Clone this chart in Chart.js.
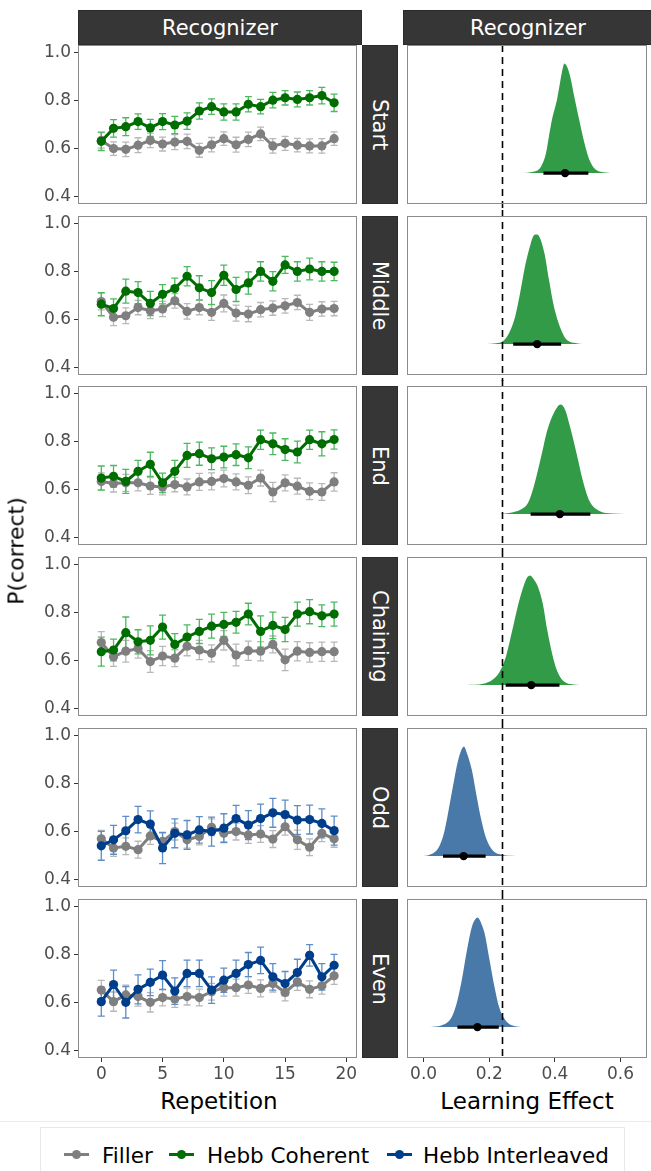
<!DOCTYPE html>
<html><head><meta charset="utf-8">
<script src="https://cdn.jsdelivr.net/npm/chart.js@4.4.0/dist/chart.umd.min.js"></script>
<style>
html,body{margin:0;padding:0;background:#fff;}
body{width:651px;height:1171px;position:relative;overflow:hidden;font-family:"DejaVu Sans",sans-serif;}
canvas{position:absolute;}
.strip{position:absolute;background:#363636;color:#fff;font-size:21px;display:flex;align-items:center;justify-content:center;box-sizing:border-box;border:1px solid #2b2b2b;}
.vstrip{writing-mode:vertical-rl;}
.txt{position:absolute;white-space:nowrap;color:#000;}
</style></head><body>
<script>
// ---------------- DATA ----------------
const repetition = [0,1,2,3,4,5,6,7,8,9,10,11,12,13,14,15,16,17,18,19];
const rowLabels = ["Start","Middle","End","Chaining","Odd","Even"];
const seriesNames = ["Filler","Hebb Coherent","Hebb Interleaved"];
const stripTitle = "Recognizer";
const xTicksRepetition = [0,5,10,15,20];
const yTicksP = [0.4,0.6,0.8,1.0];
const xTicksEffect = [0.0,0.2,0.4,0.6];
const referenceEffect = 0.24;

const startFiller      = [0.634,0.600,0.597,0.614,0.634,0.619,0.627,0.630,0.593,0.616,0.641,0.616,0.638,0.661,0.611,0.622,0.614,0.611,0.611,0.641];
const startFillerErr   = [0.032,0.028,0.030,0.031,0.030,0.029,0.031,0.030,0.029,0.030,0.028,0.031,0.030,0.028,0.030,0.029,0.028,0.029,0.030,0.028];
const startCoherent    = [0.630,0.684,0.691,0.712,0.686,0.712,0.698,0.714,0.756,0.774,0.752,0.752,0.784,0.774,0.801,0.811,0.804,0.811,0.820,0.790];
const startCoherentErr = [0.038,0.036,0.037,0.032,0.035,0.033,0.036,0.034,0.034,0.032,0.034,0.034,0.032,0.030,0.032,0.030,0.031,0.030,0.034,0.036];

const middleFiller      = [0.675,0.610,0.616,0.650,0.637,0.644,0.678,0.634,0.650,0.630,0.667,0.627,0.623,0.641,0.648,0.657,0.671,0.630,0.644,0.646];
const middleFillerErr   = [0.035,0.035,0.033,0.030,0.033,0.032,0.030,0.032,0.030,0.033,0.035,0.033,0.032,0.030,0.030,0.030,0.030,0.033,0.030,0.030];
const middleCoherent    = [0.664,0.646,0.718,0.712,0.667,0.705,0.729,0.780,0.732,0.712,0.784,0.725,0.752,0.800,0.759,0.827,0.800,0.810,0.800,0.800];
const middleCoherentErr = [0.048,0.040,0.050,0.046,0.050,0.040,0.043,0.040,0.050,0.050,0.042,0.050,0.046,0.040,0.040,0.035,0.040,0.045,0.040,0.038];

const endFiller      = [0.634,0.625,0.628,0.628,0.615,0.611,0.621,0.611,0.632,0.634,0.646,0.632,0.618,0.648,0.590,0.628,0.614,0.593,0.590,0.632];
const endFillerErr   = [0.035,0.035,0.035,0.033,0.035,0.033,0.030,0.033,0.035,0.035,0.035,0.033,0.035,0.033,0.040,0.033,0.033,0.035,0.035,0.038];
const endCoherent    = [0.648,0.655,0.634,0.676,0.705,0.628,0.676,0.742,0.749,0.728,0.735,0.745,0.732,0.807,0.790,0.766,0.756,0.807,0.790,0.808];
const endCoherentErr = [0.050,0.045,0.050,0.045,0.050,0.040,0.045,0.050,0.048,0.045,0.045,0.045,0.045,0.040,0.045,0.045,0.045,0.040,0.050,0.040];

const chainingFiller      = [0.675,0.616,0.639,0.650,0.596,0.619,0.610,0.660,0.644,0.630,0.684,0.623,0.641,0.639,0.667,0.603,0.639,0.634,0.637,0.637];
const chainingFillerErr   = [0.045,0.040,0.045,0.040,0.045,0.040,0.035,0.040,0.040,0.035,0.040,0.045,0.040,0.040,0.035,0.045,0.040,0.040,0.040,0.040];
const chainingCoherent    = [0.637,0.644,0.716,0.678,0.684,0.739,0.667,0.698,0.721,0.743,0.750,0.759,0.793,0.721,0.746,0.729,0.793,0.803,0.786,0.793];
const chainingCoherentErr = [0.060,0.045,0.065,0.050,0.060,0.050,0.045,0.050,0.050,0.050,0.050,0.045,0.045,0.065,0.055,0.050,0.050,0.050,0.045,0.050];

const oddFiller         = [0.570,0.532,0.539,0.525,0.582,0.559,0.600,0.566,0.580,0.618,0.593,0.600,0.586,0.590,0.569,0.620,0.566,0.535,0.593,0.570];
const oddFillerErr      = [0.035,0.035,0.035,0.035,0.035,0.035,0.035,0.035,0.035,0.035,0.035,0.035,0.035,0.035,0.035,0.035,0.040,0.035,0.035,0.035];
const oddInterleaved    = [0.541,0.566,0.603,0.650,0.631,0.532,0.593,0.586,0.607,0.600,0.614,0.654,0.627,0.654,0.678,0.671,0.648,0.650,0.634,0.604];
const oddInterleavedErr = [0.060,0.060,0.060,0.055,0.055,0.065,0.060,0.060,0.055,0.060,0.060,0.055,0.060,0.060,0.060,0.060,0.060,0.060,0.060,0.060];

const evenFiller         = [0.652,0.604,0.632,0.625,0.601,0.621,0.615,0.625,0.621,0.645,0.662,0.662,0.673,0.659,0.679,0.642,0.686,0.655,0.670,0.711];
const evenFillerErr      = [0.040,0.040,0.040,0.040,0.040,0.035,0.035,0.035,0.035,0.035,0.035,0.035,0.035,0.035,0.035,0.035,0.035,0.035,0.035,0.035];
const evenInterleaved    = [0.604,0.675,0.601,0.655,0.684,0.714,0.648,0.721,0.721,0.652,0.693,0.721,0.758,0.775,0.707,0.679,0.725,0.796,0.707,0.755];
const evenInterleavedErr = [0.060,0.060,0.065,0.060,0.055,0.060,0.055,0.055,0.055,0.055,0.050,0.055,0.050,0.055,0.055,0.050,0.055,0.045,0.055,0.045];

// posterior of learning effect: x grid, relative density, [lower, estimate, upper]
const startEffectX        = [0.294,0.338,0.358,0.373,0.382,0.392,0.407,0.417,0.424,0.429,0.436,0.446,0.461,0.476,0.490,0.505,0.525,0.554,0.585];
const startEffectDensity  = [0,0.015,0.061,0.183,0.34,0.5,0.68,0.85,0.957,1,0.978,0.89,0.67,0.459,0.275,0.122,0.03,0.006,0];
const startEffectInterval = [0.365,0.431,0.502];

const middleEffectX        = [0.191,0.221,0.240,0.260,0.279,0.294,0.309,0.324,0.333,0.343,0.353,0.368,0.382,0.397,0.417,0.436,0.466,0.500];
const middleEffectDensity  = [0,0.009,0.024,0.1,0.253,0.466,0.71,0.893,0.979,1,0.979,0.832,0.588,0.344,0.146,0.04,0.009,0];
const middleEffectInterval = [0.273,0.346,0.419];

const endEffectX        = [0.230,0.270,0.299,0.319,0.338,0.358,0.377,0.397,0.417,0.431,0.446,0.466,0.485,0.505,0.534,0.574,0.652];
const endEffectDensity  = [0,0.015,0.046,0.108,0.277,0.523,0.769,0.923,1,0.954,0.8,0.554,0.308,0.123,0.031,0.006,0];
const endEffectInterval = [0.326,0.415,0.508];

const chainingEffectX        = [0.132,0.181,0.211,0.230,0.250,0.270,0.289,0.304,0.314,0.324,0.338,0.348,0.363,0.377,0.392,0.407,0.426,0.456,0.495];
const chainingEffectDensity  = [0,0.012,0.052,0.114,0.252,0.498,0.745,0.898,0.975,1,0.955,0.9,0.745,0.498,0.283,0.129,0.037,0.006,0];
const chainingEffectInterval = [0.250,0.328,0.414];

const oddEffectX        = [-0.017,0.015,0.034,0.049,0.064,0.078,0.093,0.103,0.113,0.123,0.132,0.147,0.162,0.176,0.191,0.211,0.240,0.279];
const oddEffectDensity  = [0,0.009,0.037,0.098,0.235,0.45,0.694,0.847,0.954,1,0.939,0.786,0.541,0.327,0.159,0.052,0.012,0];
const oddEffectInterval = [0.059,0.122,0.189];

const evenEffectX        = [0.020,0.054,0.074,0.088,0.103,0.118,0.132,0.147,0.157,0.164,0.176,0.186,0.201,0.216,0.230,0.250,0.279,0.319];
const evenEffectDensity  = [0,0.015,0.046,0.107,0.244,0.457,0.701,0.915,0.982,1,0.945,0.854,0.61,0.366,0.183,0.061,0.009,0];
const evenEffectInterval = [0.103,0.164,0.229];

// ---------------- STYLE / LAYOUT ----------------
const COL = {
  filler:      {line:'#7f7f7f', err:'#b8b8b8'},
  coherent:    {line:'#006d00', err:'#4cb860', dens:'#319b47'},
  interleaved: {line:'#003e8b', err:'#5d8dc6', dens:'#4979a9'}
};
const ROW_TOP = [45, 216, 386, 557, 728, 899];
const PANEL_H = 159;
const PAD = 16, XAXIS_H = 30;
const TICK_FONT = {family:'DejaVu Sans', size:17};
const TICK_COLOR = '#4d4d4d';

const rows = [
  {label:rowLabels[0], f:startFiller, fe:startFillerErr, h:startCoherent, he:startCoherentErr, kind:'coherent', ex:startEffectX, ed:startEffectDensity, iv:startEffectInterval},
  {label:rowLabels[1], f:middleFiller, fe:middleFillerErr, h:middleCoherent, he:middleCoherentErr, kind:'coherent', ex:middleEffectX, ed:middleEffectDensity, iv:middleEffectInterval},
  {label:rowLabels[2], f:endFiller, fe:endFillerErr, h:endCoherent, he:endCoherentErr, kind:'coherent', ex:endEffectX, ed:endEffectDensity, iv:endEffectInterval},
  {label:rowLabels[3], f:chainingFiller, fe:chainingFillerErr, h:chainingCoherent, he:chainingCoherentErr, kind:'coherent', ex:chainingEffectX, ed:chainingEffectDensity, iv:chainingEffectInterval},
  {label:rowLabels[4], f:oddFiller, fe:oddFillerErr, h:oddInterleaved, he:oddInterleavedErr, kind:'interleaved', ex:oddEffectX, ed:oddEffectDensity, iv:oddEffectInterval},
  {label:rowLabels[5], f:evenFiller, fe:evenFillerErr, h:evenInterleaved, he:evenInterleavedErr, kind:'interleaved', ex:evenEffectX, ed:evenEffectDensity, iv:evenEffectInterval}
];

// ---------------- PLUGINS ----------------
const panelBorder = {
  id:'panelBorder',
  afterDraw(chart){
    const {ctx, chartArea:a} = chart;
    ctx.save();
    ctx.strokeStyle = '#8c8c8c'; ctx.lineWidth = 1;
    ctx.strokeRect(Math.round(a.left)+0.5, Math.round(a.top)+0.5, Math.round(a.right-a.left)-1, Math.round(a.bottom-a.top)-1);
    ctx.restore();
  }
};
const errorBars = {
  id:'errorBars',
  beforeDatasetsDraw(chart){
    const {ctx, scales:{x,y}} = chart;
    ctx.save();
    chart.data.datasets.slice().reverse().forEach(ds=>{
      if(!ds.err) return;
      ctx.strokeStyle = ds.errColor; ctx.lineWidth = 1.3;
      ds.data.forEach((p,i)=>{
        const px = x.getPixelForValue(p.x);
        const yt = y.getPixelForValue(p.y + ds.err[i]);
        const yb = y.getPixelForValue(p.y - ds.err[i]);
        ctx.beginPath();
        ctx.moveTo(px, yt); ctx.lineTo(px, yb);
        ctx.moveTo(px-3.5, yt); ctx.lineTo(px+3.5, yt);
        ctx.moveTo(px-3.5, yb); ctx.lineTo(px+3.5, yb);
        ctx.stroke();
      });
    });
    ctx.restore();
  }
};
function refLine(first, last){
  return {
    id:'refLine',
    afterDatasetsDraw(chart){
      const {ctx, chartArea:a, scales:{x}} = chart;
      const px = Math.round(x.getPixelForValue(referenceEffect)) + 0.5;
      ctx.save();
      ctx.strokeStyle = '#000'; ctx.lineWidth = 1.6; ctx.setLineDash([7,5]);
      ctx.beginPath();
      ctx.moveTo(px, first ? a.top : a.top - 6);
      ctx.lineTo(px, last ? a.bottom : a.bottom + 6);
      ctx.stroke();
      ctx.restore();
    }
  };
}

// ---------------- BUILD ----------------
function makeCanvas(left, top, w, h){
  const c = document.createElement('canvas');
  c.width = w; c.height = h;
  c.style.left = left+'px'; c.style.top = top+'px';
  c.style.width = w+'px'; c.style.height = h+'px';
  document.body.appendChild(c);
  return c;
}
function addDiv(cls, text, css){
  const d = document.createElement('div');
  d.className = cls; d.textContent = text;
  Object.assign(d.style, css);
  document.body.appendChild(d);
  return d;
}

Chart.defaults.font.family = 'DejaVu Sans';
Chart.defaults.animation = false;

rows.forEach((r, i)=>{
  const last = i === rows.length - 1;
  const top = ROW_TOP[i];
  const h = PAD + PANEL_H + (last ? XAXIS_H : PAD);
  const ck = COL[r.kind];
  const xFit = s => { s.height = last ? XAXIS_H : 0; };

  // left: P(correct) by repetition
  const c1 = makeCanvas(0, top - PAD, 362, h);
  new Chart(c1, {
    type:'line',
    data:{ datasets:[
      {label: r.kind==='coherent'?seriesNames[1]:seriesNames[2], data: repetition.map((x,k)=>({x, y:r.h[k]})), err:r.he, errColor:ck.err,
        borderColor:ck.line, backgroundColor:ck.line, borderWidth:3, pointRadius:4.6, pointHoverRadius:4.6, pointBorderWidth:0, tension:0},
      {label: seriesNames[0], data: repetition.map((x,k)=>({x, y:r.f[k]})), err:r.fe, errColor:COL.filler.err,
        borderColor:COL.filler.line, backgroundColor:COL.filler.line, borderWidth:3, pointRadius:4.6, pointHoverRadius:4.6, pointBorderWidth:0, tension:0}
    ]},
    options:{
      responsive:false, animation:false, events:[],
      layout:{padding:{left:0, right:1, top:PAD, bottom:last?0:PAD}},
      plugins:{legend:{display:false}, tooltip:{enabled:false}},
      scales:{
        x:{type:'linear', min:-1.9, max:20.9, display:last,
           afterBuildTicks:s=>{s.ticks = xTicksRepetition.map(v=>({value:v}));},
           afterFit:xFit,
           ticks:{font:TICK_FONT, color:TICK_COLOR, padding:2, maxRotation:0, callback:v=>String(v)},
           grid:{display:true, drawOnChartArea:false, drawTicks:true, tickLength:4, tickColor:'#333', tickWidth:1},
           border:{display:false}},
        y:{type:'linear', min:0.37, max:1.03,
           afterBuildTicks:s=>{s.ticks = yTicksP.map(v=>({value:v}));},
           afterFit:s=>{s.width = 78;},
           ticks:{font:TICK_FONT, color:TICK_COLOR, padding:3, callback:v=>Number(v).toFixed(1)},
           grid:{display:true, drawOnChartArea:false, drawTicks:true, tickLength:4, tickColor:'#333', tickWidth:1},
           border:{display:false}}
      }
    },
    plugins:[errorBars, panelBorder]
  });

  // row strip
  addDiv('strip vstrip', r.label, {left:'362px', top:top+'px', width:'36px', height:PANEL_H+'px'});

  // right: posterior of learning effect
  const c2 = makeCanvas(403, top - PAD, 248, h);
  new Chart(c2, {
    type:'line',
    data:{ datasets:[
      {data:[{x:r.iv[1], y:0}], showLine:false, pointRadius:4.2, pointHoverRadius:4.2, backgroundColor:'#000', borderColor:'#000', pointBorderWidth:0},
      {data:[{x:r.iv[0], y:0},{x:r.iv[2], y:0}], borderColor:'#000', borderWidth:3.2, pointRadius:0, borderCapStyle:'butt'},
      {data:r.ex.map((x,k)=>({x, y:r.ed[k]})), borderWidth:0, borderColor:'rgba(0,0,0,0)', pointRadius:0,
        fill:'origin', backgroundColor:ck.dens, cubicInterpolationMode:'monotone'}
    ]},
    options:{
      responsive:false, animation:false, events:[],
      layout:{padding:{left:0, right:0, top:PAD, bottom:last?0:PAD}},
      plugins:{legend:{display:false}, tooltip:{enabled:false}, filler:{propagate:false}},
      scales:{
        x:{type:'linear', min:-0.05, max:0.68, display:last,
           afterBuildTicks:s=>{s.ticks = xTicksEffect.map(v=>({value:v}));},
           afterFit:xFit,
           ticks:{font:TICK_FONT, color:TICK_COLOR, padding:2, maxRotation:0, callback:v=>Number(v).toFixed(1)},
           grid:{display:true, drawOnChartArea:false, drawTicks:true, tickLength:4, tickColor:'#333', tickWidth:1},
           border:{display:false}},
        y:{type:'linear', min:-0.282, max:1.17, display:false}
      }
    },
    plugins:[refLine(i===0, last), panelBorder]
  });
});

// top strips
addDiv('strip', stripTitle, {left:'78px', top:'10px', width:'284px', height:'35px'});
addDiv('strip', stripTitle, {left:'403px', top:'10px', width:'250px', height:'35px'});

// axis titles
addDiv('txt', 'P(correct)', {left:'16px', top:'551px', fontSize:'22px', transform:'translate(-50%,-50%) rotate(-90deg)'});
addDiv('txt', 'Repetition', {left:'219px', top:'1101px', fontSize:'23px', transform:'translate(-50%,-50%)'});
addDiv('txt', 'Learning Effect', {left:'527px', top:'1101px', fontSize:'23px', transform:'translate(-50%,-50%)'});

// legend
const lg = document.createElement('div');
Object.assign(lg.style, {position:'absolute', left:'0', top:'1121px', width:'651px', height:'1px', background:'#ececec'});
document.body.appendChild(lg);
const box = document.createElement('div');
Object.assign(box.style, {position:'absolute', left:'40px', top:'1127px', width:'585px', height:'60px', border:'1px solid #e8e8e8', boxSizing:'border-box'});
document.body.appendChild(box);
const legendItems = [
  {name:seriesNames[0], color:COL.filler.line, sx:64, tx:102},
  {name:seriesNames[1], color:COL.coherent.line, sx:169, tx:207},
  {name:seriesNames[2], color:COL.interleaved.line, sx:387, tx:423}
];
legendItems.forEach(it=>{
  const ln = document.createElement('div');
  Object.assign(ln.style, {position:'absolute', left:it.sx+'px', top:'1153px', width:'25px', height:'3px', background:it.color});
  document.body.appendChild(ln);
  const dot = document.createElement('div');
  Object.assign(dot.style, {position:'absolute', left:(it.sx+12.5-4.5)+'px', top:'1150px', width:'9px', height:'9px', borderRadius:'50%', background:it.color});
  document.body.appendChild(dot);
  addDiv('txt', it.name, {left:it.tx+'px', top:'1155px', fontSize:'21.5px', transform:'translateY(-50%)'});
});
</script>
</body></html>
